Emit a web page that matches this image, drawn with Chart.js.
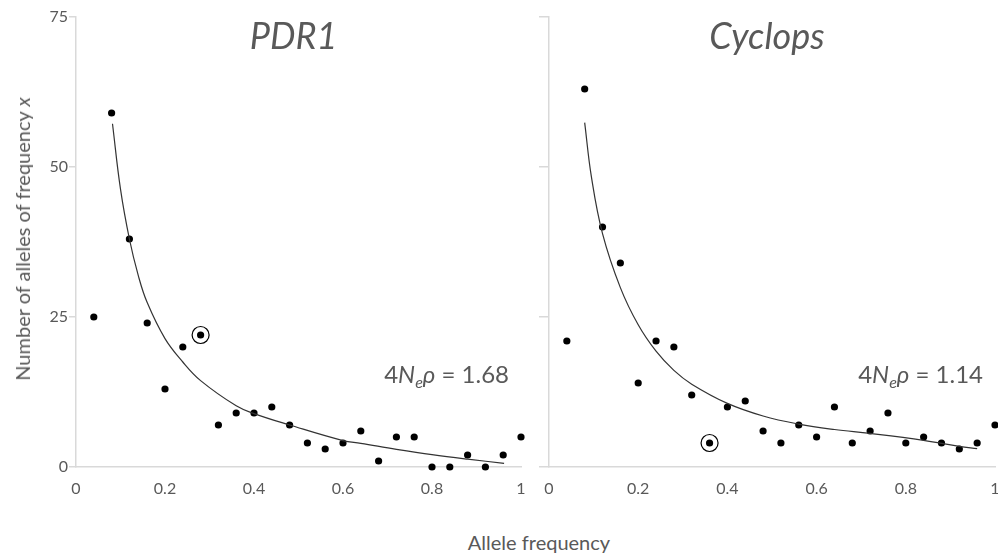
<!DOCTYPE html>
<html>
<head>
<meta charset="utf-8">
<script src="https://cdn.jsdelivr.net/npm/chart.js@4.4.0/dist/chart.umd.min.js"></script>
<style>
  html, body { margin: 0; padding: 0; background: #fff; }
  body { width: 998px; height: 558px; position: relative; overflow: hidden; font-family: Lato, sans-serif; color: #595959; }
  canvas { position: absolute; top: 0; }
  #left-chart { left: 0; }
  #right-chart { left: 530px; }
  .axis-title { position: absolute; font-size: 20px; white-space: nowrap; }
  #y-title { left: 22px; top: 239px; transform: translate(-50%, -50%) rotate(-90deg); }
  #x-title { left: 539px; top: 542px; transform: translate(-50%, -50%); }
</style>
</head>
<body>
<canvas id="left-chart" width="545" height="520"></canvas>
<canvas id="right-chart" width="490" height="520"></canvas>
<div class="axis-title" id="y-title">Number of alleles of frequency <i>x</i></div>
<div class="axis-title" id="x-title">Allele frequency</div>
<script>
// allele frequency classes and observed counts
const frequencies = [0.04, 0.08, 0.12, 0.16, 0.20, 0.24, 0.28, 0.32, 0.36, 0.40, 0.44, 0.48, 0.52,
                     0.56, 0.60, 0.64, 0.68, 0.72, 0.76, 0.80, 0.84, 0.88, 0.92, 0.96, 1.00];
const pdr1Counts = [25, 59, 38, 24, 13, 20, 22, 7, 9, 9, 10, 7, 4, 3, 4, 6, 1, 5, 5, 0, 0, 2, 0, 2, 5];
const cyclopsCounts = [21, 63, 40, 34, 14, 21, 20, 12, 4, 10, 11, 6, 4, 7, 5, 10, 4, 6, 9, 4, 5, 4, 3, 4, 7];

// highlighted class in each panel
const pdr1Marked = 6;
const cyclopsMarked = 8;

// fitted expectation curves
const pdr1FitX = [0.082, 0.10, 0.12, 0.14, 0.16, 0.20, 0.24, 0.28, 0.36, 0.40, 0.48, 0.60, 0.64, 0.72, 0.80, 0.88, 0.962];
const pdr1FitY = [57.2, 46.3, 38, 31.9, 27.4, 21.4, 17.5, 14.4, 10.2, 8.9, 7.0, 4.4, 3.95, 2.95, 2.05, 1.3, 0.62];
const cyclopsFitX = [0.08, 0.095, 0.12, 0.16, 0.20, 0.24, 0.28, 0.32, 0.40, 0.48, 0.56, 0.64, 0.72, 0.84, 0.92, 0.96];
const cyclopsFitY = [57.4, 48.4, 38.9, 29.9, 23.7, 19.3, 16.1, 13.8, 10.6, 8.5, 7.15, 6.25, 5.6, 4.45, 3.45, 3.05];

const xTickLabels = ['0', '0.2', '0.4', '0.6', '0.8', '1'];
const yTickLabels = ['0', '25', '50', '75'];
const rhoEstimates = ['1.68', '1.14'];

const textColor = '#595959';
const axisColor = '#d9d9d9';

// draws the gene name and the 4Neρ estimate inside the plot area
const panelText = {
    id: 'panelText',
    afterDraw(chart, args, opts) {
        const ctx = chart.ctx;
        const area = chart.chartArea;
        ctx.save();
        ctx.fillStyle = textColor;
        ctx.textBaseline = 'alphabetic';

        ctx.font = 'italic 36px Lato';
        ctx.textAlign = 'center';
        ctx.fillText(opts.title, (area.left + area.right) / 2 - 5, area.top + 32);

        const parts = [
            { text: '4', font: '24px Lato', dy: 0 },
            { text: 'N', font: 'italic 24px Lato', dy: 0 },
            { text: 'e', font: 'italic 16px Lato', dy: 5 },
            { text: 'ρ', font: 'italic 24px Lato', dy: 0 },
            { text: ' = ' + opts.rho, font: '24px Lato', dy: 0 }
        ];
        ctx.textAlign = 'left';
        let total = 0;
        parts.forEach(p => {
            ctx.font = p.font;
            p.w = ctx.measureText(p.text).width;
            total += p.w;
        });
        let x = area.right - 12 - total;
        const baseline = chart.scales.y.getPixelForValue(14);
        parts.forEach(p => {
            ctx.font = p.font;
            ctx.fillText(p.text, x, baseline + p.dy);
            x += p.w;
        });
        ctx.restore();
    }
};

function makePanel(canvasId, counts, fitX, fitY, marked, title, rho, opts) {
    const points = frequencies.map((f, i) => ({ x: f, y: counts[i] }));
    const curve = fitX.map((f, i) => ({ x: f, y: fitY[i] }));

    return new Chart(document.getElementById(canvasId), {
        type: 'scatter',
        data: {
            datasets: [
                {
                    data: curve,
                    showLine: true,
                    pointRadius: 0,
                    borderColor: '#333',
                    borderWidth: 1.2,
                    tension: 0.4,
                    clip: false
                },
                {
                    data: points,
                    pointRadius: 3.6,
                    backgroundColor: '#000',
                    borderWidth: 0,
                    clip: false
                },
                {
                    data: [points[marked]],
                    pointRadius: 8.5,
                    backgroundColor: 'rgba(0,0,0,0)',
                    borderColor: '#000',
                    borderWidth: 1.2,
                    clip: false
                }
            ]
        },
        options: {
            responsive: false,
            animation: false,
            devicePixelRatio: 1,
            layout: { padding: { top: 17, right: opts.padRight, bottom: 0, left: 0 } },
            plugins: {
                legend: { display: false },
                tooltip: { enabled: false },
                panelText: { title: title, rho: rho }
            },
            scales: {
                x: {
                    type: 'linear',
                    min: 0,
                    max: 1,
                    ticks: {
                        stepSize: 0.2,
                        padding: 12,
                        color: textColor,
                        font: { family: 'Lato', size: 16 },
                        maxRotation: 0,
                        callback: (value, index) => xTickLabels[index]
                    },
                    grid: { display: false, drawTicks: false },
                    border: { display: true, color: axisColor, width: 1.5 },
                    afterFit: scale => { scale.height = 53; }
                },
                y: {
                    type: 'linear',
                    min: 0,
                    max: 75,
                    ticks: {
                        stepSize: 25,
                        padding: 1,
                        display: opts.yLabels,
                        color: textColor,
                        font: { family: 'Lato', size: 16 },
                        callback: (value, index) => yTickLabels[index]
                    },
                    grid: { display: true, drawOnChartArea: false, tickLength: opts.tickLength, color: axisColor, lineWidth: 1.5 },
                    border: { display: true, color: axisColor, width: 1.5 },
                    afterFit: scale => { scale.width = opts.yWidth; }
                }
            }
        },
        plugins: [panelText]
    });
}

makePanel('left-chart', pdr1Counts, pdr1FitX, pdr1FitY, pdr1Marked, 'PDR1', rhoEstimates[0],
    { padRight: 24, yWidth: 76, yLabels: true, tickLength: 7 });
makePanel('right-chart', cyclopsCounts, cyclopsFitX, cyclopsFitY, cyclopsMarked, 'Cyclops', rhoEstimates[1],
    { padRight: 25, yWidth: 19, yLabels: false, tickLength: 10 });
</script>
</body>
</html>
